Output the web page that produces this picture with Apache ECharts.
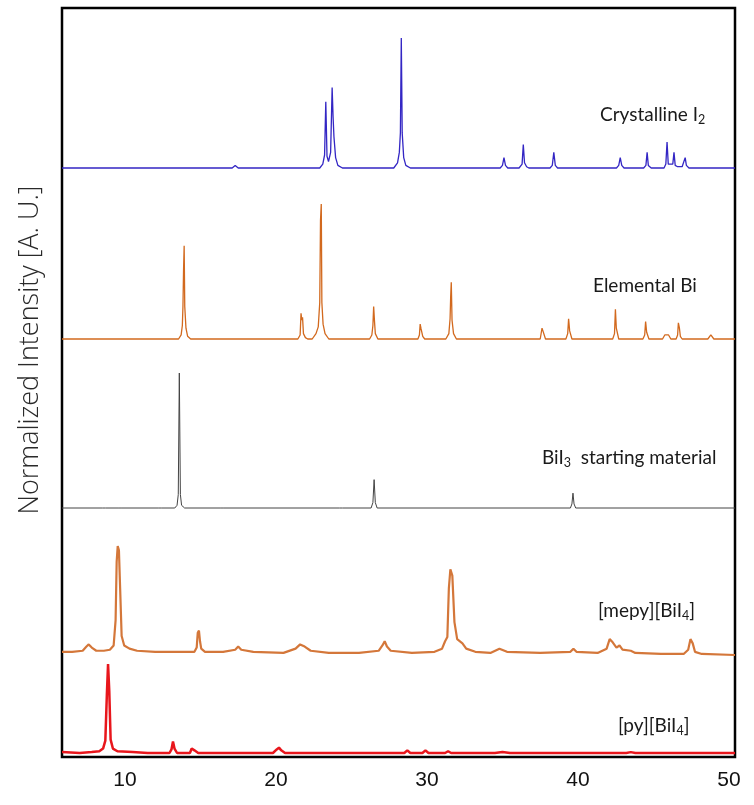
<!DOCTYPE html>
<html>
<head>
<meta charset="utf-8">
<script src="https://cdn.jsdelivr.net/npm/echarts@6/dist/echarts.min.js"></script>
<style>
  html, body { margin: 0; padding: 0; background: #fff; }
  #xrd { width: 754px; height: 805px; }
</style>
</head>
<body>
<div id="xrd"></div>
<script>
// 2-theta range and tick labels
const xMin = 5.83;
const xMax = 50.4;
const xTicks = [10, 20, 30, 40, 50];

// [2theta, normalized intensity]
const i2Pattern = [
  [5.83,0],[17.1,0],[17.3,2],[17.5,0],
  [22.9,0],[23.1,3],[23.22,10],[23.3,51],[23.38,9],[23.48,5],[23.62,12],[23.72,62],[23.78,40],[23.84,24],[23.95,8],[24.1,2],[24.4,0],
  [27.8,0],[28.05,4],[28.17,12],[28.24,27],[28.3,100],[28.36,27],[28.46,8],[28.6,2],[28.9,0],
  [34.85,0],[35.0,2],[35.1,8],[35.2,2],[35.35,0],
  [36.1,0],[36.3,3],[36.38,18],[36.46,4],[36.6,1],[36.75,0],
  [37.2,0],[37.3,1],[37.4,0],
  [38.15,0],[38.3,2],[38.4,12],[38.5,2],[38.65,0],
  [42.55,0],[42.7,2],[42.8,8],[42.9,2],[43.05,0],
  [44.35,0],[44.5,2],[44.58,12],[44.66,2],[44.85,0],
  [45.3,0],[45.4,1],[45.5,0],
  [45.7,0],[45.82,3],[45.9,20],[45.98,3],[46.1,2],[46.28,3],[46.36,12],[46.44,2],[46.6,1],
  [46.9,1],[47.02,2],[47.1,8],[47.18,2],[47.35,0],[50.4,0]
];

const biPattern = [
  [5.83,0],[13.55,0],[13.72,3],[13.8,10],[13.84,24],[13.88,51],[13.92,69],[13.96,24],[14.04,8],[14.15,2],[14.35,0],
  [21.45,0],[21.6,3],[21.66,19],[21.71,14],[21.76,16],[21.82,4],[21.95,1],[22.1,0],
  [22.4,0],[22.65,4],[22.8,9],[22.9,27],[22.95,88],[23.0,100],[23.04,27],[23.12,11],[23.25,4],[23.5,0],
  [26.2,0],[26.35,3],[26.42,10],[26.47,24],[26.52,14],[26.58,4],[26.75,0],
  [29.4,0],[29.5,3],[29.55,11],[29.6,8],[29.65,9],[29.72,2],[29.85,0],
  [31.25,0],[31.45,4],[31.53,15],[31.57,31],[31.61,42],[31.66,14],[31.76,4],[31.95,0],
  [37.5,0],[37.62,8],[37.68,6],[37.74,7],[37.85,0],
  [39.2,0],[39.32,4],[39.38,15],[39.45,6],[39.6,0],
  [42.3,0],[42.42,4],[42.48,22],[42.54,8],[42.7,0],
  [44.3,0],[44.42,3],[44.48,13],[44.55,5],[44.7,0],
  [45.6,0],[45.75,3],[46.0,3],[46.15,0],
  [46.5,0],[46.6,3],[46.65,12],[46.72,8],[46.78,2],[46.9,0],
  [48.6,0],[48.8,3],[49.0,0],[50.4,0]
];

const biI3Pattern = [
  [5.83,0],[8.5,0],[8.6,1],[8.7,0],[9.6,0],[9.7,1],[9.8,0],[12.2,0],[12.3,1],[12.4,0],
  [13.3,0],[13.45,2],[13.53,10],[13.6,100],[13.67,10],[13.75,2],[13.95,0],
  [16.3,0],[16.4,1],[16.5,0],[24.2,0],[24.3,1],[24.4,0],
  [26.3,0],[26.42,4],[26.5,21],[26.58,4],[26.7,0],
  [39.5,0],[39.6,3],[39.67,11],[39.74,3],[39.85,0],[50.4,0]
];

const mepyPattern = [
  [5.83,0],[6.5,0],[7.2,1],[7.45,5],[7.6,7],[7.8,4],[8.1,1],[8.6,1],
  [9.0,2],[9.25,6],[9.38,30],[9.45,85],[9.52,100],[9.6,96],[9.68,60],[9.78,15],[9.95,6],[10.3,3],[10.8,1],[12.0,0],
  [13.5,0],[14.6,0],[14.75,4],[14.82,18],[14.9,20],[14.97,10],[15.05,3],[15.3,0],
  [16.5,0],[17.3,2],[17.5,5],[17.7,2],[18.5,0],
  [20.5,-1],[21.3,3],[21.6,7],[21.9,5],[22.3,1],[23.5,-1],
  [25.5,-1],[26.8,1],[27.05,6],[27.2,10],[27.35,5],[27.6,1],[29.0,-1],
  [30.5,0],[31.0,3],[31.2,10],[31.35,14],[31.45,60],[31.55,78],[31.68,72],[31.82,28],[32.0,12],[32.35,8],[32.6,3],[33.2,0],
  [34.2,-1],[34.8,3],[35.3,0],[37.5,-1],[39.5,0],[39.7,3],[39.9,0],
  [41.3,-1],[41.9,3],[42.1,12],[42.3,9],[42.55,4],[42.75,6],[42.95,2],[43.5,1],[43.8,-1],[45.5,-2],[47.0,-2],
  [47.3,2],[47.45,12],[47.6,8],[47.75,0],[48.2,-2],[50.4,-3]
];

const pyPattern = [
  [5.83,1],[7.0,0],[7.8,1],[8.3,2],[8.55,5],[8.7,14],[8.8,65],[8.88,100],[8.96,70],[9.05,15],[9.2,5],[9.5,2],[10.5,1],[11.5,0],
  [12.95,0],[13.08,4],[13.18,13],[13.28,5],[13.45,0],
  [14.3,0],[14.42,5],[14.5,7],[14.6,3],[14.72,3],[14.85,0],
  [19.8,0],[20.05,4],[20.2,6],[20.35,3],[20.6,0],
  [28.5,0],[28.7,3],[28.9,0],[29.7,0],[29.9,3],[30.1,0],[31.2,0],[31.4,2],[31.6,0],
  [34.5,0],[35.0,1],[35.5,0],[43.2,0],[43.5,1],[43.8,0],[50.4,0]
];

// one band per pattern: [data, color, width, top px, baseline px, y min]
const bands = [
  [i2Pattern, '#3326c4', 1.3, 38, 168, 0],
  [biPattern, '#d2691e', 1.3, 204, 339, 0],
  [biI3Pattern, '#444444', 1, 373, 508, 0],
  [mepyPattern, '#d4773a', 2.2, 546, 655, -3],
  [pyPattern, '#e8161c', 2.5, 664, 753, 0]
];

const H = 805;
const grids = [{ left: 62, right: 19, top: 8, bottom: 48, show: true, borderColor: '#000', borderWidth: 2.5 }];
const xAxes = [{
  type: 'value', gridIndex: 0, min: xMin, max: xMax,
  axisLine: { show: false }, axisTick: { show: false }, splitLine: { show: false },
  axisLabel: {
    customValues: xTicks, fontSize: 21, color: '#111', margin: 13,
    fontFamily: 'Liberation Sans Narrow, Liberation Sans, sans-serif'
  }
}];
const yAxes = [{ type: 'value', gridIndex: 0, show: false }];
const series = [];

bands.forEach(function (b, i) {
  grids.push({ left: 62, right: 19, top: b[3], bottom: H - b[4] });
  xAxes.push({ type: 'value', gridIndex: i + 1, min: xMin, max: xMax, show: false });
  yAxes.push({ type: 'value', gridIndex: i + 1, min: b[5], max: 100, show: false });
  series.push({
    type: 'line',
    xAxisIndex: i + 1,
    yAxisIndex: i + 1,
    data: b[0],
    showSymbol: false,
    clip: false,
    lineStyle: { color: b[1], width: b[2] }
  });
});

const labelFont = 'Lato, "Open Sans", sans-serif';
function bandLabel(x, y, rich) {
  return {
    type: 'text', left: x, top: y,
    style: {
      text: rich,
      fontFamily: labelFont,
      rich: {
        a: { fontSize: 19, fontFamily: labelFont, fill: '#1a1a1a' },
        s: { fontSize: 12.5, fontFamily: labelFont, fill: '#1a1a1a', padding: [10, 0, 0, 0] }
      }
    }
  };
}

const chart = echarts.init(document.getElementById('xrd'));
chart.setOption({
  animation: false,
  backgroundColor: '#fff',
  grid: grids,
  xAxis: xAxes,
  yAxis: yAxes,
  series: series,
  graphic: [
    {
      type: 'text', x: 30, y: 350, rotation: Math.PI / 2,
      style: {
        text: 'Normalized Intensity [A. U.]',
        fontSize: 27, fontWeight: 300, fontFamily: '"Open Sans", sans-serif',
        fill: '#2a2a2a', align: 'center', verticalAlign: 'middle'
      }
    },
    bandLabel(600, 105, '{a|Crystalline I}{s|2}'),
    bandLabel(593, 276, '{a|Elemental Bi}'),
    bandLabel(542, 448, '{a|BiI}{s|3}{a|  starting material}'),
    bandLabel(598, 601, '{a|[mepy][BiI}{s|4}{a|]}'),
    bandLabel(618, 716, '{a|[py][BiI}{s|4}{a|]}')
  ]
});
</script>
</body>
</html>
